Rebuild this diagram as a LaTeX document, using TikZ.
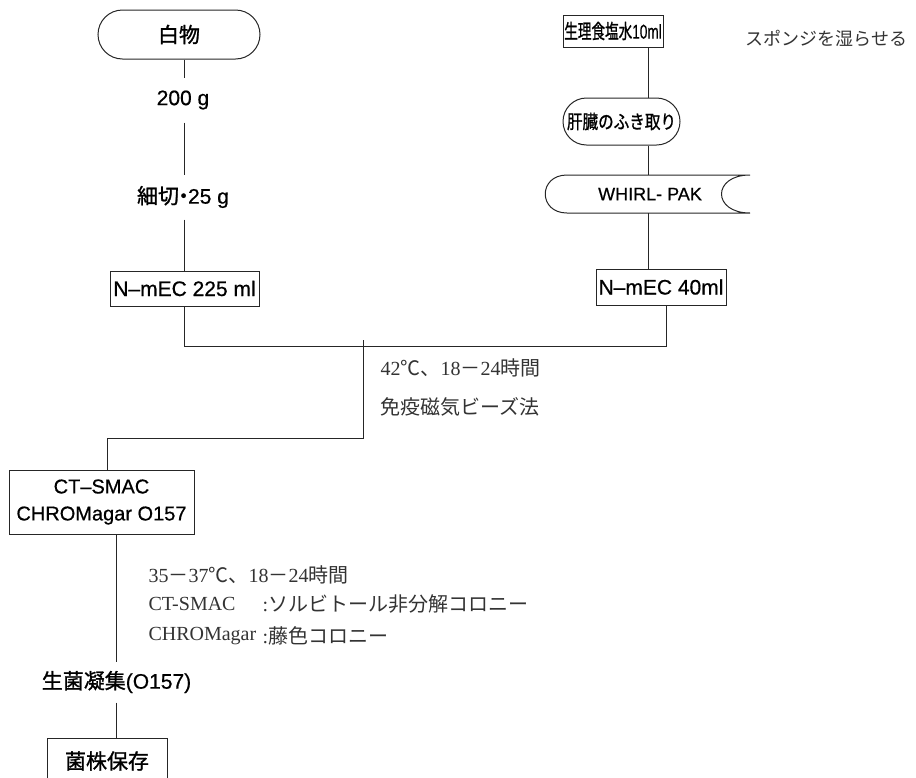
\documentclass[tikz,border=0pt]{standalone}
\usepackage{fontspec}
\setmainfont{Liberation Sans}[FakeBold=0.6]
\newfontfamily\cjk{Noto Sans CJK JP}[FakeBold=1.2]
\newfontfamily\cjkn{Noto Sans CJK JP}
\newfontfamily\ser{Liberation Serif}
\usetikzlibrary{shapes.misc,calc}
\newcommand{\hx}[2]{\scalebox{#1}[1]{#2}}
\begin{document}
\begin{tikzpicture}[x=1pt,y=-1pt,
  line width=1pt,
  lab/.style={font=\fontsize{21}{24}\selectfont, inner sep=0pt},
  boxr/.style={draw=black!85, rectangle, line width=1pt, inner sep=0pt, font=\fontsize{21}{24}\selectfont},
  stad/.style={draw=black!85, rounded rectangle, line width=1pt, inner sep=0pt, font=\fontsize{21}{24}\selectfont},
  note/.style={anchor=west, inner sep=0pt, text=black!80, font=\fontsize{20}{24}\selectfont\ser},
  conn/.style={draw=black!85, line width=1pt},
]
\useasboundingbox (0,0) rectangle (916,777);
\clip (0,0) rectangle (916,777);

% left column
\node[stad, minimum width=162, minimum height=49] (shiro) at (179,34.5) {\cjk 白物};
\node[lab, minimum height=44] (g200) at (183,100) {200 g};
\node[lab, minimum height=44] (cut) at (183,197) {{\cjk 細切}\kern-6pt{\cjk ・}\kern-6pt25 g};
\node[boxr, minimum width=149, minimum height=35] (nmec1) at (184.5,288.5) {N–mEC 225 ml};

% right column
\node[boxr, minimum width=100, minimum height=32] (saline) at (613,31) {\hx{0.68}{\fontsize{20}{22}\selectfont{\cjk 生理食塩水}10ml}};
\node[note, font=\fontsize{18}{22}\selectfont\cjkn] (sponge) at (745,38) {スポンジを湿らせる};
\node[stad, minimum width=117, minimum height=47] (liver) at (621.5,121.5) {\hx{0.82}{\fontsize{19}{21}\selectfont\cjk 肝臓のふき取り}};
\node[lab, font=\fontsize{18}{20}\selectfont] (whirl) at (650,194) {WHIRL- PAK};
\draw[conn] ([shift={(-83,-19)}]whirl.center) -- ([shift={(100,-19)}]whirl.center)
  .. controls ([shift={(62,-19)}]whirl.center) and ([shift={(62,19)}]whirl.center) .. ([shift={(100,19)}]whirl.center)
  -- ([shift={(-83,19)}]whirl.center)
  .. controls ([shift={(-112,19)}]whirl.center) and ([shift={(-112,-19)}]whirl.center) .. cycle;
\coordinate (rx) at (648,194);
\node[boxr, minimum width=130, minimum height=36] (nmec2) at (661,287) {N–mEC 40ml};

% merge
\coordinate (jr) at (666,346.5);
\coordinate (mt) at (363,340);
\coordinate (mb) at (363,438);

\node[note] (n1) at (380,368) {42{\cjkn ℃、}18{\cjkn －}24{\cjkn 時間}};
\node[note] (n2) at (380,407) {\cjkn 免疫磁気ビーズ法};

% lower part
\node[boxr, minimum width=185, minimum height=64, align=center, font=\fontsize{20}{27}\selectfont] (ct) at (101.5,502) {CT–SMAC\\CHROMagar O157};
\node[note] (n3) at (148,575) {35{\cjkn －}37{\cjkn ℃、}18{\cjkn －}24{\cjkn 時間}};
\node[note] (n4) at (148,604) {CT-SMAC};
\node[note] (n5) at (262,604) {:{\cjkn ソルビトール非分解コロニー}};
\node[note] (n6) at (148,636) {CHROMagar};
\node[note] (n7) at (262,636) {:{\cjkn 藤色コロニー}};
\node[lab, minimum height=40] (agg) at (116.5,682) {{\cjk 生菌凝集}(O157)};
\node[boxr, anchor=north, minimum width=120, minimum height=45] (keep) at (107,738) {\cjk 菌株保存};

% connectors
\draw[conn] (shiro.south -| nmec1) -- (g200.north -| nmec1);
\draw[conn] (g200.south -| nmec1) -- (cut.north -| nmec1);
\draw[conn] (cut.south -| nmec1) -- (nmec1.north);
\draw[conn] (nmec1.south) |- (jr) -- (jr |- nmec2.south);
\draw[conn] (saline.south -| rx) -- (liver.north -| rx);
\draw[conn] (liver.south -| rx) -- ([yshift=19pt]rx);
\draw[conn] ([yshift=-19pt]rx) -- (nmec2.north -| rx);
\draw[conn] (mt) -- (mb) -| ([xshift=5.5pt]ct.north);
\draw[conn] (ct.south -| agg) -- (agg.north);
\draw[conn] (agg.south) -- (agg.south |- keep.north);
\end{tikzpicture}
\end{document}
